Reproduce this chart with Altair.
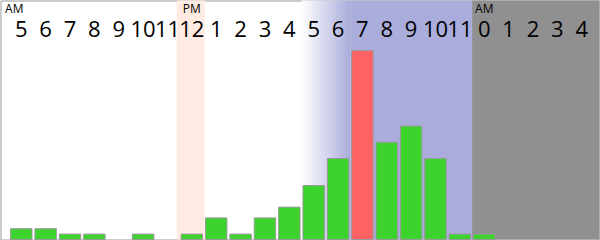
import altair as alt
import pandas as pd

# Hour-of-day labels along the top, from 5 AM through 4 AM the next day
hour_labels = ["5", "6", "7", "8", "9", "10", "11", "12", "1", "2", "3", "4",
               "5", "6", "7", "8", "9", "10", "11", "0", "1", "2", "3", "4"]
# Count for each hour slot
counts = [2, 2, 1, 1, 0, 1, 0, 1, 4, 1, 4, 6,
          10, 15, 35, 18, 21, 15, 1, 1, 0, 0, 0, 0]

# Meridiem markers and the slot each one sits over
period_labels = ["AM", "PM", "AM"]
period_slots = [0, 7, 19]

# Shaded periods, in slot units
noon_band = [6.88, 8.03]
dusk_fade = [12, 14]
evening_band = [14, 19]
night_band = [19, 24.23]

W, H = 599, 239
X_DOMAIN = [-0.353, 24.23]
Y_DOMAIN = [0, 44.26]

GREEN = "#3cd32c"
RED = "#ff6262"
PEACH = "#ffebe1"
LAVENDER = "#aaacdc"
NIGHT = "#909090"
EDGE = "#999999"
FONT = "Open Sans"

xs = alt.Scale(domain=X_DOMAIN, nice=False, zero=False)
ys = alt.Scale(domain=Y_DOMAIN, nice=False)

peak = max(counts)
bars_df = pd.DataFrame({
    "slot": list(range(len(counts))),
    "count": counts,
})
bars_df["x0"] = bars_df["slot"] + 0.06
bars_df["x1"] = bars_df["slot"] + 0.94
bars_df["peak"] = bars_df["count"] == peak
bars_df = bars_df[bars_df["count"] > 0]

labels_df = pd.DataFrame({
    "label": hour_labels,
    "center": [i + 0.5 for i in range(len(hour_labels))],
})

periods_df = pd.DataFrame({
    "label": period_labels,
    "center": [s + 0.5 for s in period_slots],
})


def band(span, fill):
    df = pd.DataFrame({"a": [span[0]], "b": [span[1]]})
    return alt.Chart(df).mark_rect(fill=fill).encode(
        x=alt.X("a:Q", scale=xs, axis=None),
        x2="b:Q",
    )


noon = band(noon_band, PEACH)
evening = band(evening_band, LAVENDER)
night = band(night_band, NIGHT)

fade = alt.Chart(pd.DataFrame({"a": [dusk_fade[0]], "b": [dusk_fade[1]]})).mark_rect(
    fill=alt.Gradient(
        gradient="linear",
        stops=[alt.GradientStop(color="#ffffff", offset=0),
               alt.GradientStop(color=LAVENDER, offset=1)],
        x1=0, x2=1, y1=0, y2=0,
    ),
).encode(x=alt.X("a:Q", scale=xs, axis=None), x2="b:Q")

bars = alt.Chart(bars_df).mark_rect(stroke=EDGE, strokeWidth=1).encode(
    x=alt.X("x0:Q", scale=xs, axis=None),
    x2="x1:Q",
    y=alt.Y("count:Q", scale=ys, axis=None),
    y2=alt.datum(0),
    fill=alt.condition("datum.peak", alt.value(RED), alt.value(GREEN)),
)

hours = alt.Chart(labels_df).mark_text(
    font=FONT, fontSize=22, color="#000000", baseline="alphabetic", align="center"
).encode(
    x=alt.X("center:Q", scale=xs, axis=None),
    y=alt.value(36.5),
    text="label:N",
)

first_period = alt.Chart(periods_df.iloc[:1]).mark_text(
    font=FONT, fontSize=12, color="#000000", baseline="alphabetic", align="center", dx=-7
).encode(
    x=alt.X("center:Q", scale=xs, axis=None),
    y=alt.value(12.5),
    text="label:N",
)

other_periods = alt.Chart(periods_df.iloc[1:]).mark_text(
    font=FONT, fontSize=12, color="#000000", baseline="alphabetic", align="center"
).encode(
    x=alt.X("center:Q", scale=xs, axis=None),
    y=alt.value(12.5),
    text="label:N",
)

chart = alt.layer(
    noon, fade, evening, night, bars, hours, first_period, other_periods
).properties(
    width=W, height=H,
    autosize=alt.AutoSizeParams(type="none"),
    padding={"left": 0.5, "right": 0.5, "top": 0.5, "bottom": 0.5},
).configure_view(
    stroke=EDGE, strokeWidth=1, fill="#ffffff"
)

chart.save("out.html", embed_options={"renderer": "svg", "actions": False})
